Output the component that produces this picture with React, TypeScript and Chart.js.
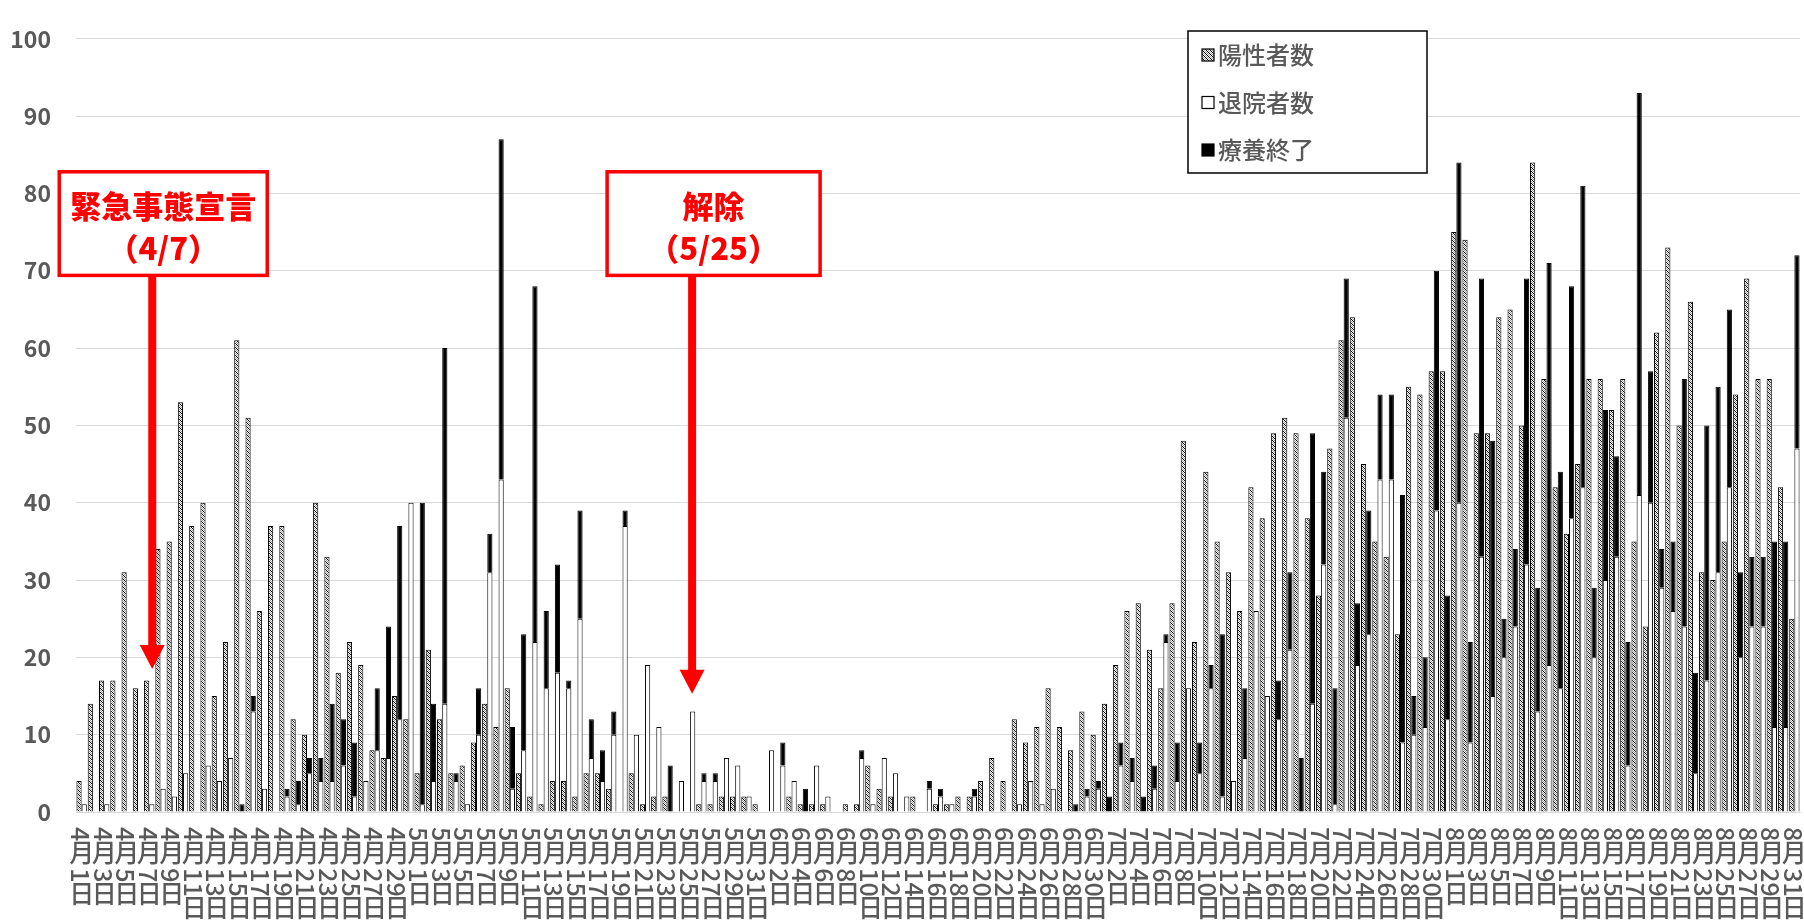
import React, { useEffect, useRef } from 'react';
import { Chart, registerables } from 'chart.js';

Chart.register(...registerables);

// ---- categories ----
const MONTHS = [4, 5, 6, 7, 8];
const MONTH_DAYS = [30, 31, 30, 31, 31];
const CATEGORIES: string[] = [];
MONTHS.forEach((m, mi) => {
  for (let d = 1; d <= MONTH_DAYS[mi]; d++) CATEGORIES.push(`${m}月${d}日`);
});

// ---- series ----
const POSITIVE = [
  // April
  4, 14, 17, 17, 31, 16, 17, 34, 35, 53, 37, 40, 15, 22, 61, 51, 26, 37, 37, 12, 10, 40, 33, 18, 22, 19, 8, 7, 15, 12,
  // May
  5, 21, 12, 5, 6, 9, 14, 11, 16, 5, 2, 1, 4, 4, 2, 5, 5, 3, 0, 5, 1, 2, 2, 0, 0, 1, 1, 2, 2, 2, 1,
  // June
  0, 0, 2, 1, 1, 1, 0, 1, 1, 6, 3, 2, 0, 2, 0, 1, 1, 2, 2, 4, 7, 4, 12, 9, 11, 16, 11, 8, 13, 10,
  // July
  14, 19, 26, 27, 21, 16, 27, 48, 22, 44, 35, 31, 26, 42, 38, 49, 51, 49, 38, 28, 47, 61, 64, 45, 35, 33, 23, 55, 54, 57, 57,
  // August
  75, 74, 49, 49, 64, 65, 50, 84, 56, 42, 36, 45, 56, 56, 52, 56, 35, 24, 62, 73, 50, 66, 31, 30, 35, 54, 69, 56, 56, 42, 25,
];

const DISCHARGED = [
  // April
  1, 0, 1, 0, 0, 0, 1, 3, 2, 5, 0, 6, 4, 7, 0, 13, 3, 0, 2, 1, 5, 4, 4, 6, 2, 4, 8, 7, 12, 40,
  // May
  1, 4, 14, 4, 1, 10, 31, 43, 3, 8, 22, 16, 18, 16, 25, 7, 4, 10, 37, 10, 19, 11, 0, 4, 13, 4, 4, 7, 6, 2, 0,
  // June
  8, 6, 4, 0, 6, 2, 0, 0, 7, 1, 7, 5, 2, 0, 3, 2, 1, 0, 2, 0, 0, 0, 1, 4, 1, 3, 0, 0, 2, 3,
  // July
  0, 6, 4, 0, 3, 22, 4, 16, 5, 16, 2, 4, 7, 26, 15, 12, 21, 0, 14, 32, 1, 51, 19, 23, 43, 43, 9, 10, 11, 39, 12,
  // August
  40, 9, 33, 15, 20, 24, 32, 13, 19, 16, 38, 42, 20, 30, 33, 6, 41, 40, 29, 26, 24, 5, 17, 31, 42, 20, 24, 24, 11, 11, 47,
];

const RECOVERED = [
  // April
  0, 0, 0, 0, 0, 0, 0, 0, 0, 0, 0, 0, 0, 0, 1, 2, 0, 0, 1, 3, 2, 3, 10, 6, 7, 0, 8, 17, 25, 0,
  // May
  39, 10, 46, 1, 0, 6, 5, 44, 8, 15, 46, 10, 14, 1, 14, 5, 4, 3, 2, 0, 0, 0, 6, 0, 0, 1, 1, 0, 0, 0, 0,
  // June
  0, 3, 0, 3, 0, 0, 0, 0, 1, 0, 0, 0, 0, 0, 1, 1, 0, 0, 1, 0, 0, 0, 0, 0, 0, 0, 0, 1, 1, 1,
  // July
  2, 3, 3, 2, 3, 1, 5, 0, 4, 3, 21, 0, 9, 0, 0, 5, 10, 7, 35, 12, 15, 18, 8, 16, 11, 11, 32, 5, 9, 31, 16,
  // August
  44, 13, 36, 33, 5, 10, 37, 16, 52, 28, 30, 39, 9, 22, 13, 16, 52, 17, 5, 9, 32, 13, 33, 24, 23, 11, 9, 9, 24, 24, 25,
];

const SERIES_NAMES = ['陽性者数', '退院者数', '療養終了'];
const Y_TICKS_MAX = 100;
const Y_TICKS_STEP = 10;

const ANNOTATIONS = [
  { date: '4月7日', lines: ['緊急事態宣言', '（4/7）'], tip: 18.5, boxTop: 82.8, boxBottom: 69.4, left: -93, right: 115, dx: 3 },
  { date: '5月25日', lines: ['解除', '（5/25）'], tip: 15.3, boxTop: 82.8, boxBottom: 69.4, left: -85, right: 128, dx: 2 },
];

const FONT = '"Noto Sans CJK JP", "Noto Sans", sans-serif';
const GRAY = '#595959';

function makeHatch(): CanvasPattern | string {
  const c = document.createElement('canvas');
  c.width = 4;
  c.height = 4;
  const g = c.getContext('2d');
  if (!g) return '#888';
  g.fillStyle = '#ffffff';
  g.fillRect(0, 0, 4, 4);
  g.fillStyle = '#000000';
  for (let i = 0; i < 4; i++) {
    g.fillRect(i, i, 1, 1);
  }
  g.fillStyle = '#9a9a9a';
  for (let i = 0; i < 4; i++) {
    g.fillRect(i, (i + 2) % 4, 1, 1);
  }
  const p = g.createPattern(c, 'repeat');
  return p || '#888';
}

const nz = (arr: number[]) => arr.map((v) => (v === 0 ? null : v));

export default function App() {
  const ref = useRef<HTMLCanvasElement | null>(null);

  useEffect(() => {
    const canvas = ref.current;
    if (!canvas) return;
    const hatch = makeHatch();

    const xLabelsPlugin = {
      id: 'xLabels',
      afterDraw(chart: any) {
        const { ctx, scales } = chart;
        const xs = scales.x;
        const base = chart.chartArea.bottom;
        ctx.save();
        ctx.fillStyle = GRAY;
        ctx.font = `500 25px ${FONT}`;
        CATEGORIES.forEach((lab, i) => {
          if (i % 2 !== 0) return;
          const m = lab.match(/^(\d+)月(\d+)日$/);
          if (!m) return;
          const x = xs.getPixelForValue(i);
          let y = base + 15;
          const drawRot = (s: string) => {
            const w = ctx.measureText(s).width;
            ctx.save();
            ctx.translate(x, y);
            ctx.rotate(Math.PI / 2);
            ctx.textAlign = 'left';
            ctx.textBaseline = 'middle';
            ctx.fillText(s, 0, 1);
            ctx.restore();
            y += w;
          };
          const drawUp = (s: string) => {
            ctx.textAlign = 'center';
            ctx.textBaseline = 'top';
            ctx.fillText(s, x, y - 2);
            y += 26;
          };
          drawRot(m[1]);
          y += 1;
          drawUp('月');
          drawRot(m[2]);
          drawUp('日');
        });
        ctx.restore();
      },
    };

    const annotPlugin = {
      id: 'annots',
      afterDatasetsDraw(chart: any) {
        const { ctx, scales } = chart;
        const xs = scales.x;
        const ys = scales.y;
        ctx.save();
        ANNOTATIONS.forEach((a) => {
          const idx = CATEGORIES.indexOf(a.date);
          const px = xs.getPixelForValue(idx) + a.dx;
          const tipY = ys.getPixelForValue(a.tip);
          const top = ys.getPixelForValue(a.boxTop);
          const bottom = ys.getPixelForValue(a.boxBottom);
          const headH = 24;
          ctx.fillStyle = '#ff0000';
          ctx.fillRect(px - 4, bottom, 8, tipY - headH - bottom + 1);
          ctx.beginPath();
          ctx.moveTo(px - 12.5, tipY - headH);
          ctx.lineTo(px + 12.5, tipY - headH);
          ctx.lineTo(px, tipY);
          ctx.closePath();
          ctx.fill();
          const l = px + a.left;
          const r = px + a.right;
          ctx.fillStyle = '#ffffff';
          ctx.fillRect(l, top, r - l, bottom - top);
          ctx.strokeStyle = '#ff0000';
          ctx.lineWidth = 3.5;
          ctx.strokeRect(l, top, r - l, bottom - top);
          ctx.fillStyle = '#ff0000';
          ctx.font = `900 31px ${FONT}`;
          ctx.textAlign = 'center';
          ctx.textBaseline = 'middle';
          const cx = (l + r) / 2;
          const h = bottom - top;
          ctx.fillText(a.lines[0], cx, top + h * 0.33);
          ctx.fillText(a.lines[1], cx, top + h * 0.74);
        });
        ctx.restore();
      },
    };

    const legendPlugin = {
      id: 'customLegend',
      afterDraw(chart: any) {
        const { ctx } = chart;
        const bx = 1188;
        const by = 31;
        const bw = 239;
        const bh = 142;
        ctx.save();
        ctx.fillStyle = '#ffffff';
        ctx.fillRect(bx, by, bw, bh);
        ctx.strokeStyle = '#000000';
        ctx.lineWidth = 1.5;
        ctx.strokeRect(bx, by, bw, bh);
        const fills: any[] = [hatch, '#ffffff', '#000000'];
        ctx.font = `500 24px ${FONT}`;
        ctx.textAlign = 'left';
        ctx.textBaseline = 'middle';
        SERIES_NAMES.forEach((name, i) => {
          const cy = by + 24 + i * 47.5;
          ctx.fillStyle = fills[i];
          ctx.fillRect(bx + 14, cy - 6, 12, 12);
          ctx.strokeStyle = '#000000';
          ctx.lineWidth = 1.2;
          ctx.strokeRect(bx + 14, cy - 6, 12, 12);
          ctx.fillStyle = GRAY;
          ctx.fillText(name, bx + 30, cy);
        });
        ctx.restore();
      },
    };

    const bgPlugin = {
      id: 'bg',
      beforeDraw(chart: any) {
        const { ctx, width, height } = chart;
        ctx.save();
        ctx.fillStyle = '#ffffff';
        ctx.fillRect(0, 0, width, height);
        ctx.restore();
      },
    };

    const common = {
      borderColor: '#000000',
      borderWidth: 1,
      borderSkipped: 'start',
      barPercentage: 1.0,
      categoryPercentage: 0.92,
    };

    const chart = new Chart(canvas, {
      type: 'bar',
      data: {
        labels: CATEGORIES,
        datasets: [
          { ...common, label: SERIES_NAMES[0], data: nz(POSITIVE), backgroundColor: hatch as any, stack: 'pos' },
          { ...common, label: SERIES_NAMES[1], data: nz(DISCHARGED), backgroundColor: '#ffffff', stack: 'out' },
          { ...common, label: SERIES_NAMES[2], data: nz(RECOVERED), backgroundColor: '#000000', stack: 'out' },
        ] as any,
      },
      options: {
        responsive: false,
        maintainAspectRatio: false,
        animation: false,
        layout: { padding: { top: 18, right: 4, left: 0, bottom: 0 } },
        plugins: {
          legend: { display: false },
          tooltip: { enabled: false },
        },
        scales: {
          x: {
            ticks: { display: false },
            grid: { display: false, drawTicks: false },
            border: { display: true, color: '#d9d9d9', width: 1 },
            afterFit(scale: any) {
              scale.height = 112;
            },
          },
          y: {
            stacked: true,
            min: 0,
            max: Y_TICKS_MAX,
            ticks: {
              stepSize: Y_TICKS_STEP,
              padding: 25,
              color: GRAY,
              font: { family: FONT, size: 23, weight: 'bold' },
            },
            grid: { color: '#d9d9d9', lineWidth: 1, drawTicks: false },
            border: { display: false },
            afterFit(scale: any) {
              scale.width = 76;
            },
          },
        },
      },
      plugins: [bgPlugin, annotPlugin, legendPlugin, xLabelsPlugin],
    });

    return () => chart.destroy();
  }, []);

  return (
    <div style={{ position: 'fixed', left: 0, top: 0, width: 1804, height: 924, background: '#fff' }}>
      <canvas ref={ref} width={1804} height={924} style={{ display: 'block', width: 1804, height: 924 }} />
    </div>
  );
}
